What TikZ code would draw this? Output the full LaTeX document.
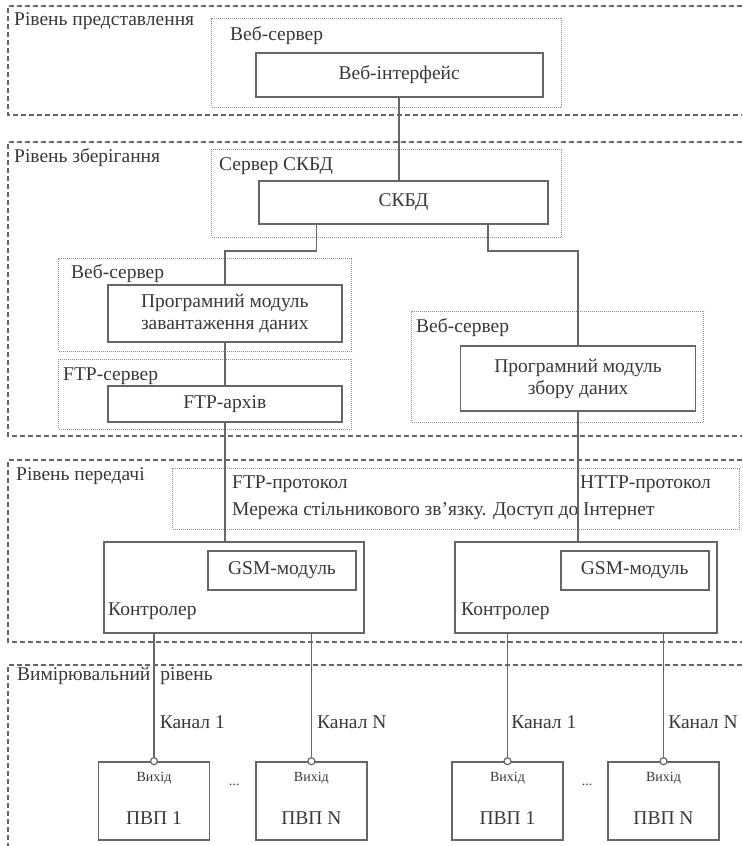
\documentclass[tikz,border=0pt]{standalone}
\usepackage{fontspec}
\setmainfont{Liberation Serif}
\usetikzlibrary{calc,positioning}
\definecolor{inkgray}{HTML}{383838}
\definecolor{linegray}{HTML}{666666}
\definecolor{dotgray}{HTML}{8C8C8C}

\begin{document}
\begin{tikzpicture}%
  [x=1pt, y=-1pt,
   every node/.style={text=inkgray, font=\fontsize{19.5}{22}\selectfont},
   level/.style={draw=linegray, line width=1.4pt, dash pattern=on 5pt off 3pt},
   host/.style={draw=dotgray, line width=1pt, dash pattern=on 1pt off 1pt, inner sep=0pt},
   block/.style={draw=linegray, line width=1.6pt, inner sep=0pt, align=center},
   caption/.style={anchor=west, inner sep=0pt},
   wire/.style={draw=linegray, line width=1.5pt},
   port/.style={circle, draw=linegray, fill=white, line width=1.2pt, inner sep=0pt, minimum size=7pt},
   small/.style={font=\fontsize{14}{16}\selectfont}
  ]
\useasboundingbox (0,0) rectangle (742,846);

% levels
\draw[level] (742,6)   -| (8,115) -- (742,115);
\draw[level] (742,142) -| (8,436) -- (742,436);
\draw[level] (742,460) -| (8,642) -- (742,642);
\draw[level] (742,665) -| (8,846);
\node[caption] (lvlview)  at (14,21)  {Рівень представлення};
\node[caption] (lvlstore) at (14,158) {Рівень зберігання};
\node[caption] (lvlxfer)  at (16,476) {Рівень передачі};
\node[caption] (lvlmeas)  at (17,676) {Вимірювальний\hspace{10pt}рівень};

% servers (dotted)
\node[host, minimum width=350pt, minimum height=89pt]  (srvweb)  at (386.6,62.5)  {};
\node[host, minimum width=350pt, minimum height=88pt]  (srvdb)   at (386.6,193)   {};
\node[host, minimum width=293pt, minimum height=93pt]  (srvload) at (205.3,304.5) {};
\node[host, minimum width=293pt, minimum height=70pt]  (srvftp)  at (205.3,394)   {};
\node[host, minimum width=292pt, minimum height=111pt] (srvcoll) at (557.9,366.5) {};
\node[host, minimum width=567pt, minimum height=61pt]  (gsmnet)  at (456.2,498.5) {};
\node[caption] (srvwebl)  at (230,36)  {Веб-сервер};
\node[caption] (srvdbl)   at (219,166) {Сервер СКБД};
\node[caption] (srvloadl) at (71,274)  {Веб-сервер};
\node[caption] (srvftpl)  at (63,376)  {FTP-сервер};
\node[caption] (srvcolll) at (416,328) {Веб-сервер};
\node[caption] (ftpproto)  at (232,484) {FTP-протокол};
\node[caption] (httpproto) at (580,484) {HTTP-протокол};
\node[caption] (netl)      at (232,511) {Мережа стільникового зв’язку. Доступ до Інтернет};

% blocks
\node[block, minimum width=287pt, minimum height=44pt] (webif)   at (399.2,75)    {Веб-інтерфейс};
\node[block, minimum width=289pt, minimum height=43pt] (dbms)    at (403.6,202.5) {СКБД};
\node[block, minimum width=234pt, minimum height=57pt] (loadmod) at (224.8,313.5) {Програмний модуль\\завантаження даних};
\node[block, minimum width=234pt, minimum height=36pt] (ftparch) at (224.8,404)   {FTP-архів};
\node[block, minimum width=235pt, minimum height=65pt] (collmod) at (578.1,378.5) {Програмний модуль\\збору даних};

\node[block, minimum width=260pt, minimum height=91pt] (ctrlA) at (234.2,587.5) {};
\node[block, minimum width=148pt, minimum height=39pt] (gsmA)  at (282,570.5)   {GSM-модуль};
\node[caption] (ctrlAl) at (108,611) {Контролер};
\node[block, minimum width=262pt, minimum height=91pt] (ctrlB) at (586,587.5)   {};
\node[block, minimum width=148pt, minimum height=39pt] (gsmB)  at (634.7,570.5) {GSM-модуль};
\node[caption] (ctrlBl) at (461,611) {Контролер};

% sensors
\foreach \nm/\cx/\lbl in {pvpA1/154/ПВП 1, pvpAN/311.4/ПВП N, pvpB1/507.5/ПВП 1, pvpBN/663.5/ПВП N}
{
  \node[block, minimum width=111pt, minimum height=78pt] (\nm) at (\cx,801) {};
  \node[small] (\nm out) at (\cx,778) {Вихід};
  \node (\nm lbl) at (\cx,818) {\lbl};
}
\node[small] (dotsA) at (234,785) {...};
\node[small] (dotsB) at (587,785) {...};

% connectors
\draw[wire] (webif.south) -- (webif.south |- dbms.north);
\draw[wire] ($(dbms.south west)!0.2!(dbms.south east)$) -- ++(0,26) -| (loadmod.north);
\draw[wire] ($(dbms.south west)!0.79!(dbms.south east)$) -- ++(0,26) -| (collmod.north);
\draw[wire] (loadmod.south) -- (ftparch.north);
\draw[wire] (ftparch.south) -- (ftparch.south |- ctrlA.north);
\draw[wire] (collmod.south) -- (collmod.south |- ctrlB.north);

\draw[wire] (pvpA1.north |- ctrlA.south) -- node[pos=0.69, caption, xshift=5pt] (chA1) {Канал 1} (pvpA1.north);
\draw[wire] (pvpAN.north |- ctrlA.south) -- node[pos=0.69, caption, xshift=5pt] (chAN) {Канал N} (pvpAN.north);
\draw[wire] (pvpB1.north |- ctrlB.south) -- node[pos=0.69, caption, xshift=3pt] (chB1) {Канал 1} (pvpB1.north);
\draw[wire] (pvpBN.north |- ctrlB.south) -- node[pos=0.69, caption, xshift=4pt] (chBN) {Канал N} (pvpBN.north);
\foreach \nm in {pvpA1, pvpAN, pvpB1, pvpBN}
  \node[port] (\nm port) at (\nm.north) {};
\end{tikzpicture}
\end{document}
